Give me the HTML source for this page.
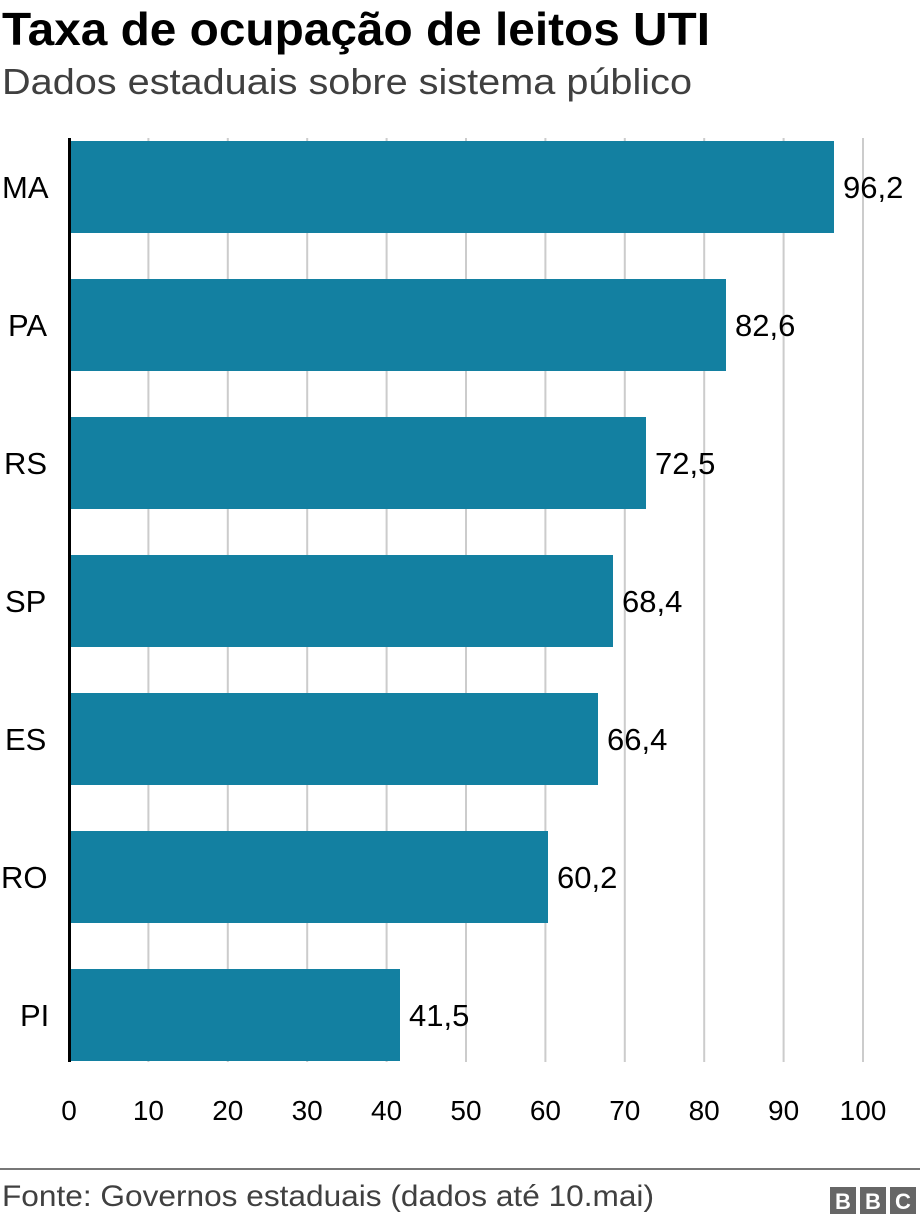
<!DOCTYPE html>
<html><head><meta charset="utf-8"><style>
html,body{margin:0;padding:0;background:#fff;width:920px;height:1224px;overflow:hidden}
svg{display:block;font-family:"Liberation Sans",Arial,sans-serif}
</style></head><body>
<svg width="920" height="1224" viewBox="0 0 920 1224" xmlns="http://www.w3.org/2000/svg">
<text x="2" y="45" font-size="46" font-weight="bold" fill="#000" textLength="708" lengthAdjust="spacingAndGlyphs">Taxa de ocupação de leitos UTI</text>
<text x="2" y="94" font-size="36" fill="#404040" textLength="690" lengthAdjust="spacingAndGlyphs">Dados estaduais sobre sistema público</text>
<g stroke="#cccccc" stroke-width="2">
<line x1="148.4" y1="138" x2="148.4" y2="1062"/>
<line x1="227.8" y1="138" x2="227.8" y2="1062"/>
<line x1="307.2" y1="138" x2="307.2" y2="1062"/>
<line x1="386.6" y1="138" x2="386.6" y2="1062"/>
<line x1="466" y1="138" x2="466" y2="1062"/>
<line x1="545.4" y1="138" x2="545.4" y2="1062"/>
<line x1="624.8" y1="138" x2="624.8" y2="1062"/>
<line x1="704.2" y1="138" x2="704.2" y2="1062"/>
<line x1="783.6" y1="138" x2="783.6" y2="1062"/>
<line x1="863" y1="138" x2="863" y2="1062"/>
</g>
<g fill="#1380a1">
<rect x="70" y="141" width="764" height="92"/>
<rect x="70" y="279" width="656" height="92"/>
<rect x="70" y="417" width="576" height="92"/>
<rect x="70" y="555" width="543" height="92"/>
<rect x="70" y="693" width="528" height="92"/>
<rect x="70" y="831" width="478" height="92"/>
<rect x="70" y="969" width="330" height="92"/>
</g>
<line x1="69.5" y1="138" x2="69.5" y2="1062" stroke="#000" stroke-width="3"/>
<g font-size="31" fill="#000">
<text x="2" y="198">MA</text>
<text x="8" y="336">PA</text>
<text x="4" y="474">RS</text>
<text x="5" y="612">SP</text>
<text x="5" y="750">ES</text>
<text x="1" y="888">RO</text>
<text x="20" y="1026">PI</text>
<text x="843" y="198">96,2</text>
<text x="735" y="336">82,6</text>
<text x="655" y="474">72,5</text>
<text x="622" y="612">68,4</text>
<text x="607" y="750">66,4</text>
<text x="557" y="888">60,2</text>
<text x="409" y="1026">41,5</text>
</g>
<g font-size="28" fill="#000" text-anchor="middle">
<text x="69" y="1120">0</text>
<text x="148.4" y="1120">10</text>
<text x="227.8" y="1120">20</text>
<text x="307.2" y="1120">30</text>
<text x="386.6" y="1120">40</text>
<text x="466" y="1120">50</text>
<text x="545.4" y="1120">60</text>
<text x="624.8" y="1120">70</text>
<text x="704.2" y="1120">80</text>
<text x="783.6" y="1120">90</text>
<text x="863" y="1120">100</text>
</g>
<line x1="0" y1="1169" x2="920" y2="1169" stroke="#777" stroke-width="2"/>
<text x="2" y="1206" font-size="30" fill="#404040" textLength="652" lengthAdjust="spacingAndGlyphs">Fonte: Governos estaduais (dados até 10.mai)</text>
<g fill="#666">
<rect x="830" y="1187" width="26" height="27"/>
<rect x="860" y="1187" width="26" height="27"/>
<rect x="890" y="1187" width="26" height="27"/>
</g>
<g font-size="22" font-weight="bold" fill="#fff" text-anchor="middle">
<text x="843" y="1209">B</text>
<text x="873" y="1209">B</text>
<text x="903" y="1209">C</text>
</g>
</svg>
</body></html>
